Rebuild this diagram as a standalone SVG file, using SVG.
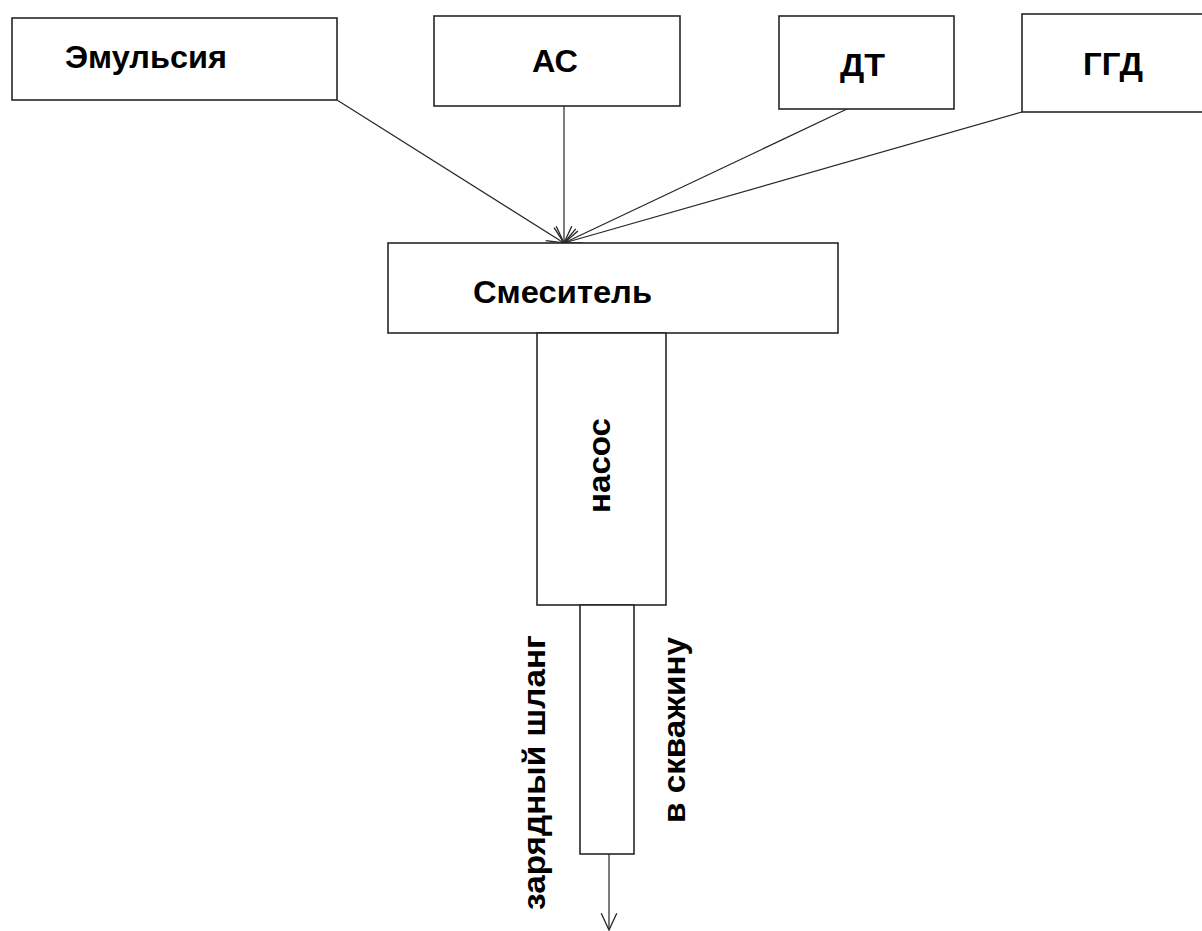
<svg xmlns="http://www.w3.org/2000/svg" width="1202" height="931" viewBox="0 0 1202 931">
<style>
.box{fill:#fff;stroke:#262626;stroke-width:1.6}
.lbl{font-family:"Liberation Sans",Arial,sans-serif;font-weight:bold;font-size:32px;fill:#000}
.con{fill:none;stroke:#262626;stroke-width:1.2}
</style>
<defs>
<marker id="arr" markerUnits="userSpaceOnUse" markerWidth="20" markerHeight="20" viewBox="-17 -9 18 18" refX="0" refY="0" orient="auto">
<path d="M-15,-7 L0,0 L-15,7" fill="none" stroke="#262626" stroke-width="1.2"/>
</marker>
</defs>
<rect width="1202" height="931" fill="#fff"/>
<g id="connectors">
<line class="con" x1="337" y1="100" x2="564" y2="243" marker-end="url(#arr)"/>
<line class="con" x1="564" y1="106" x2="564" y2="243" marker-end="url(#arr)"/>
<line class="con" x1="847" y1="109" x2="564" y2="243" marker-end="url(#arr)"/>
<line class="con" x1="1022" y1="112" x2="564" y2="243" marker-end="url(#arr)"/>
<line class="con" x1="609" y1="854" x2="609" y2="930" marker-end="url(#arr)"/>
</g>
<g id="emulsion">
<rect class="box" x="12" y="18" width="325" height="82"/>
<text class="lbl" x="65" y="68" textLength="162" lengthAdjust="spacingAndGlyphs">Эмульсия</text>
</g>
<g id="as">
<rect class="box" x="434" y="16" width="246" height="90"/>
<text class="lbl" x="532" y="72" textLength="46" lengthAdjust="spacingAndGlyphs">АС</text>
</g>
<g id="dt">
<rect class="box" x="779" y="16" width="175" height="93"/>
<text class="lbl" x="840" y="76" textLength="45" lengthAdjust="spacingAndGlyphs">ДТ</text>
</g>
<g id="ggd">
<rect class="box" x="1022" y="14" width="190" height="98"/>
<text class="lbl" x="1083" y="75" textLength="60" lengthAdjust="spacingAndGlyphs">ГГД</text>
</g>
<g id="mixer">
<rect class="box" x="388" y="243" width="450" height="90"/>
<text class="lbl" x="473" y="303" textLength="179" lengthAdjust="spacingAndGlyphs">Смеситель</text>
</g>
<g id="pump">
<rect class="box" x="537" y="333" width="129" height="272"/>
<text class="lbl" transform="translate(610,513) rotate(-90)" textLength="95" lengthAdjust="spacingAndGlyphs">насос</text>
</g>
<g id="hose">
<rect class="box" x="580" y="605" width="54" height="249"/>
<text class="lbl" transform="translate(545,910) rotate(-90)" textLength="275" lengthAdjust="spacingAndGlyphs">зарядный шланг</text>
<text class="lbl" transform="translate(685,823) rotate(-90)" textLength="186" lengthAdjust="spacingAndGlyphs">в скважину</text>
</g>
</svg>
